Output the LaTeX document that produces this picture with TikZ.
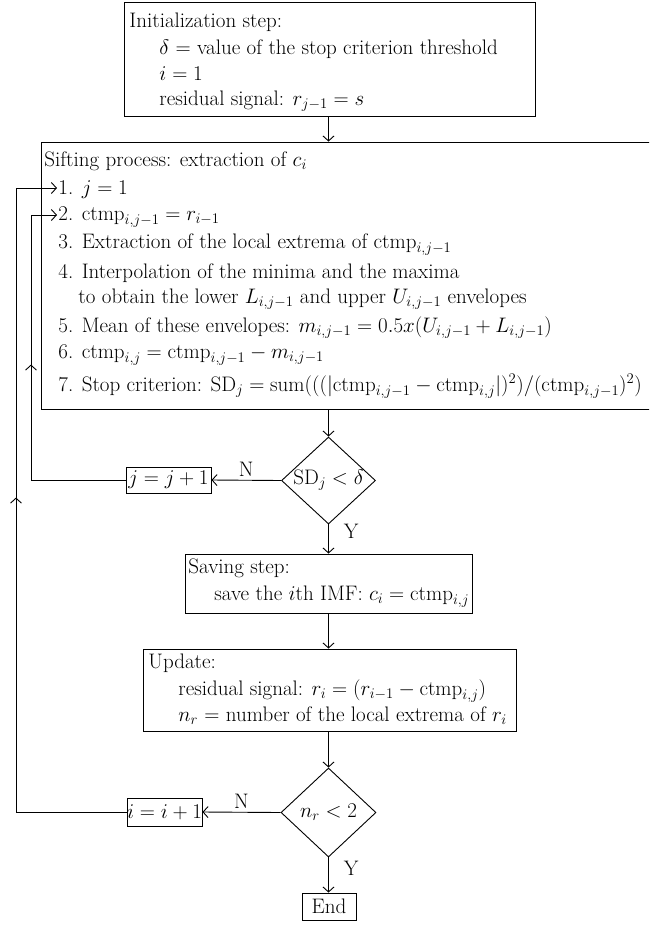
\RequirePackage{fix-cm}
\documentclass[tikz,border=0pt]{standalone}
\usetikzlibrary{shapes.geometric,arrows.meta,decorations.markings}
\begin{document}
\begin{tikzpicture}[x=1pt,y=-1pt,
  font=\fontsize{21}{25}\selectfont,
  line width=0.9pt,
  box/.style={draw, rectangle, inner sep=0pt, line width=0.9pt},
  decision/.style={draw, diamond, inner sep=0pt, line width=0.9pt},
  txt/.style={anchor=base west, inner sep=0pt},
  lbl/.style={inner sep=2pt},
  arr/.style={-{Straight Barb[length=5pt,width=11pt]}},
  midarrow/.style={postaction={decorate}, decoration={markings,
     mark=at position #1 with {\arrow{Straight Barb[length=5pt,width=11pt]}}}}
]
\clip (0,0) rectangle (649,932);
\useasboundingbox (0,0) rectangle (649,932);

% boxes
\node[box, minimum width=411pt, minimum height=114pt] (init) at (329.5,59) {};
\node[box, minimum width=639pt, minimum height=267pt] (sift) at (360.5,275.5) {};
\node[decision, minimum width=94pt, minimum height=87pt,
      label={center:$\mathrm{SD}_j < \delta$}] (d1) at (328.5,480.5) {};
\node[box, minimum width=85pt, minimum height=26pt] (jbox) at (168.5,480) {$j = j + 1$};
\node[box, minimum width=287pt, minimum height=59pt] (save) at (328.5,583.5) {};
\node[box, minimum width=373pt, minimum height=82pt] (update) at (329.5,690) {};
\node[decision, minimum width=95pt, minimum height=89pt,
      label={center:$n_r < 2$}] (d2) at (328.5,812.5) {};
\node[box, minimum width=75pt, minimum height=28pt] (ibox) at (164.5,812) {$i = i + 1$};
\node[box, minimum width=54pt, minimum height=27pt] (end) at (329,906.5) {End};

% texts of the init box
\node[txt] (i1) at (129,27) {Initialization step:};
\node[txt] (i2) at (159,54) {$\delta$ = value of the stop criterion threshold};
\node[txt] (i3) at (159,80.5) {$i = 1$};
\node[txt] (i4) at (159,105) {residual signal: $r_{j-1} = s$};

% texts of the sifting box
\node[txt] (s0) at (44,166) {Sifting process: extraction of $c_i$};
\node[txt] (s1) at (58,194) {1. $j = 1$};
\node[txt] (s2) at (58,220) {2. $\mathrm{ctmp}_{i,j-1} = r_{i-1}$};
\node[txt] (s3) at (58,248) {3. Extraction of the local extrema of $\mathrm{ctmp}_{i,j-1}$};
\node[txt] (s4) at (58,278) {4. Interpolation of the minima and the maxima};
\node[txt] (s4b) at (78,303) {to obtain the lower $L_{i,j-1}$ and upper $U_{i,j-1}$ envelopes};
\node[txt] (s5) at (58,332) {5. Mean of these envelopes: $m_{i,j-1} = 0.5x(U_{i,j-1} + L_{i,j-1})$};
\node[txt] (s6) at (58,358) {6. $\mathrm{ctmp}_{i,j} = \mathrm{ctmp}_{i,j-1} - m_{i,j-1}$};
\node[txt] (s7) at (58,391) {7. Stop criterion: $\mathrm{SD}_j = \mathrm{sum}(((|\mathrm{ctmp}_{i,j-1} - \mathrm{ctmp}_{i,j}|)^2)/(\mathrm{ctmp}_{i,j-1})^2)$};

% saving box texts
\node[txt] (v1) at (188,573) {Saving step:};
\node[txt] (v2) at (214,600) {save the $i$th IMF: $c_i = \mathrm{ctmp}_{i,j}$};

% update box texts
\node[txt] (u1) at (148,668) {Update:};
\node[txt] (u2) at (178,695) {residual signal: $r_i = (r_{i-1} - \mathrm{ctmp}_{i,j})$};
\node[txt] (u3) at (178,721) {$n_r$ = number of the local extrema of $r_i$};

% return targets
\coordinate (t1) at (57,188);
\coordinate (t2) at (57,215);
\coordinate (k1) at (16,188);
\coordinate (k2) at (31,215);

% connectors
\draw[arr] (d1.north |- init.south) -- (d1.north |- sift.north);
\draw[arr] (d1.north |- sift.south) -- (d1.north);
\draw[arr] (d1.west) -- node[lbl, above, yshift=1pt] (n1) {N} (jbox.east);
\draw[arr] (d1.south) -- node[lbl, right, pos=0.25, xshift=13pt] (y1) {Y} (d1.south |- save.north);
\draw[arr] (d1.south |- save.south) -- (d1.south |- update.north);
\draw[arr] (d2.north |- update.south) -- (d2.north);
\draw[arr] (d2.west) -- node[lbl, above, yshift=1pt] (n2) {N} (ibox.east);
\draw[arr] (d2.south) -- node[lbl, right, pos=0.3, xshift=13pt] (y2) {Y} (d2.south |- end.north);
\draw[arr, midarrow=210pt] (jbox.west) -| (k2) -- (t2);
\draw[arr, midarrow=425pt] (ibox.west) -| (k1) -- (t1);
\end{tikzpicture}
\end{document}
